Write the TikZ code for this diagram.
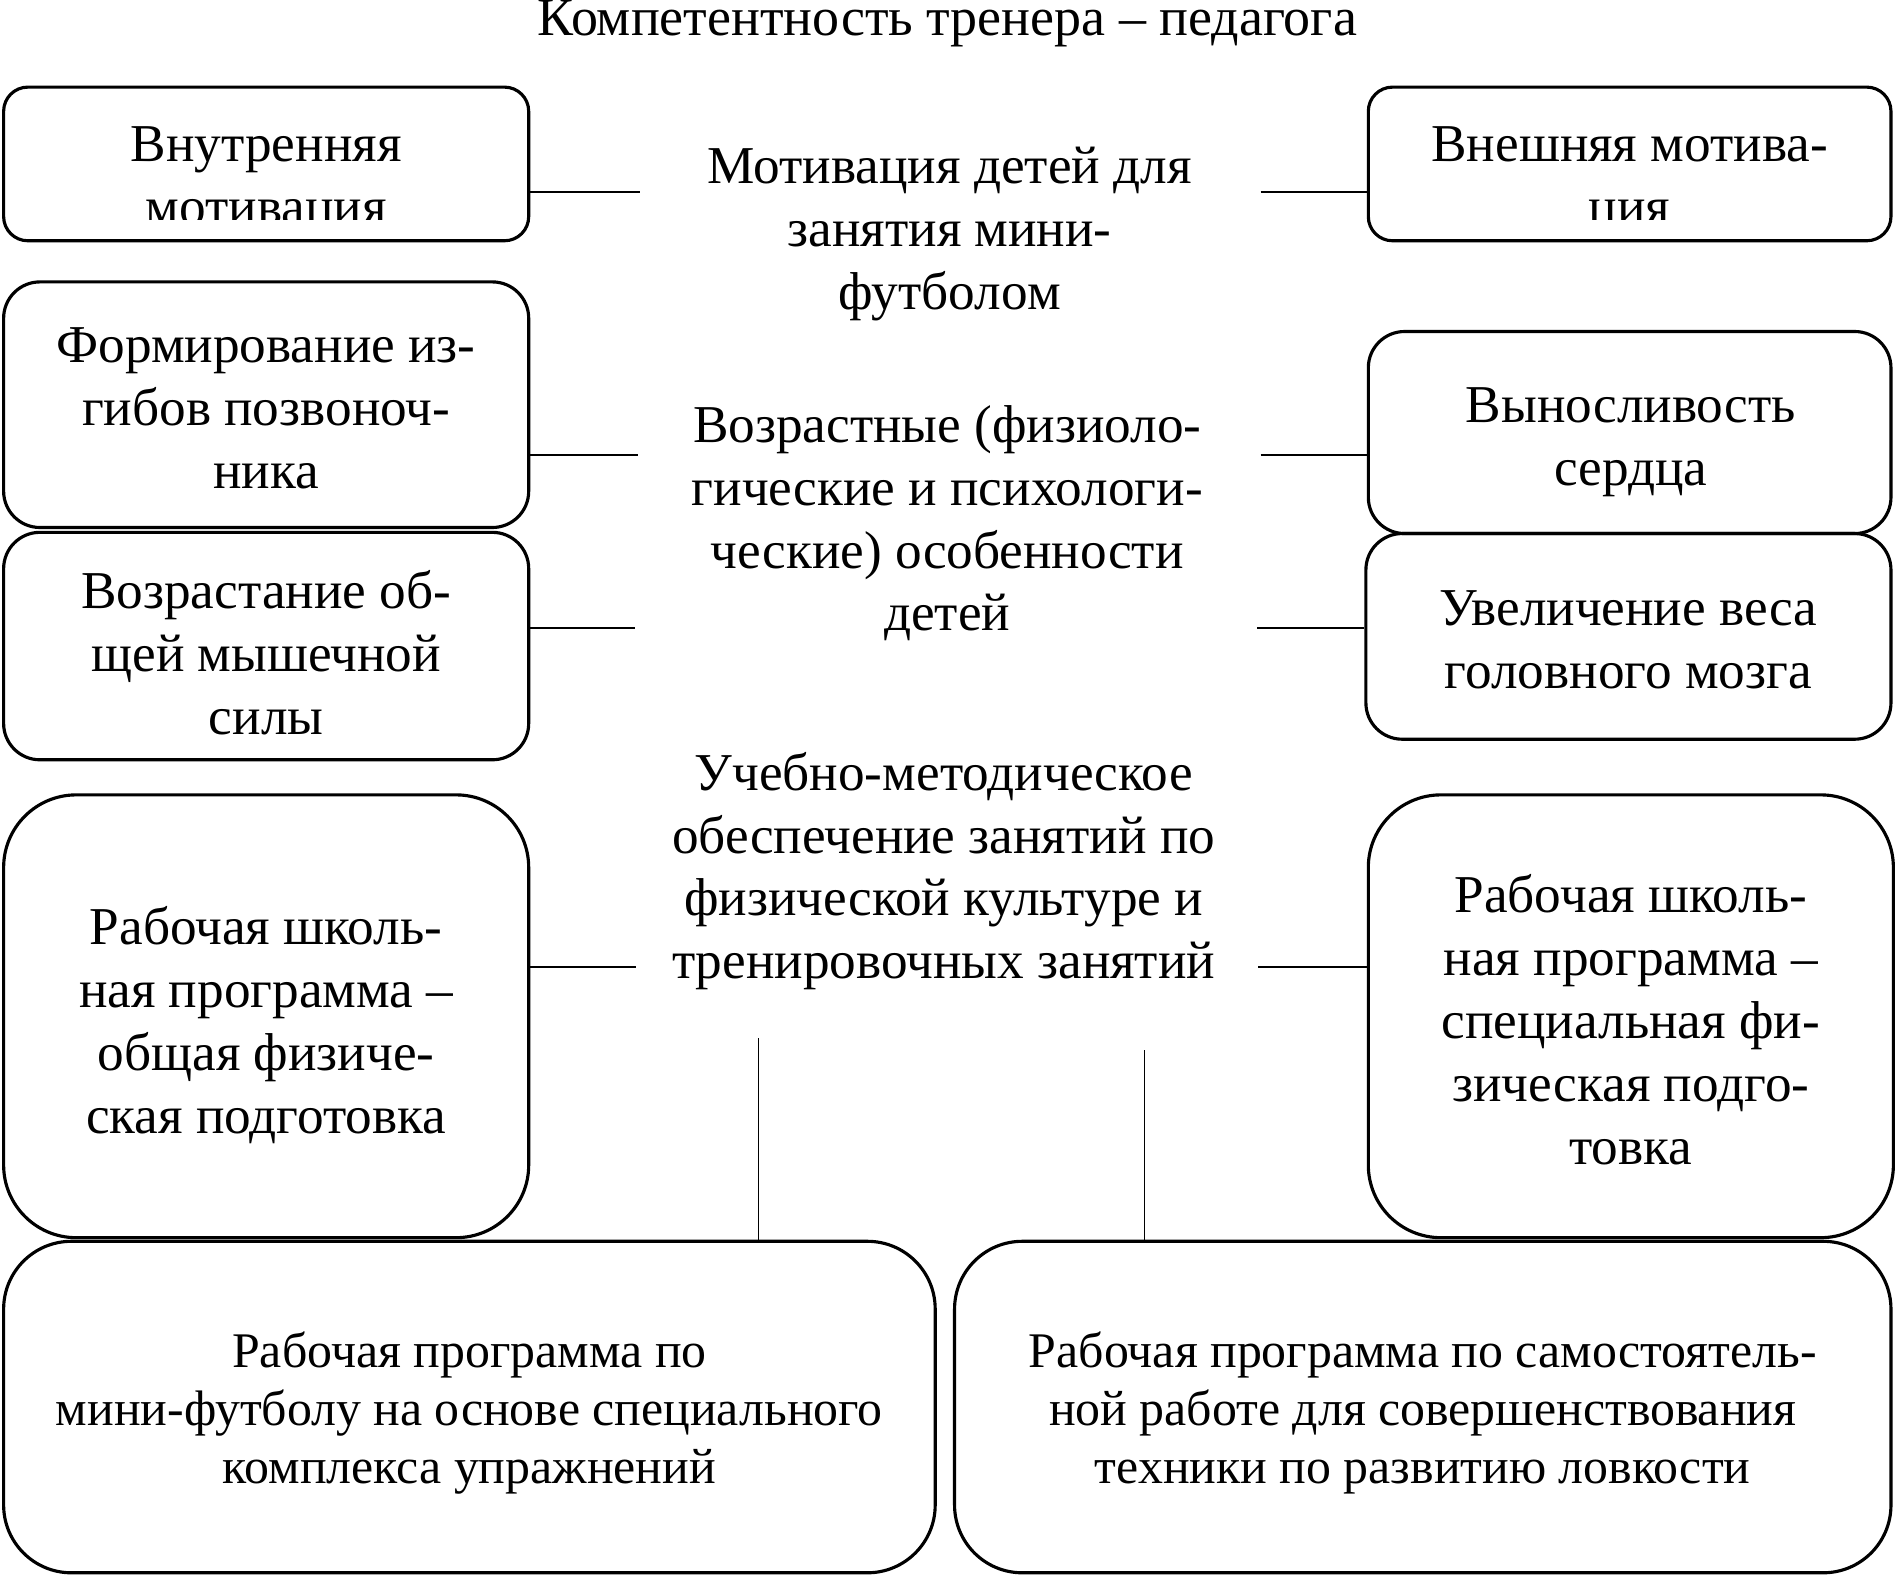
\documentclass[tikz,border=0pt]{standalone}
\usepackage{fontspec}
\setmainfont{Liberation Serif}
\begin{document}
\begin{tikzpicture}[x=0.5pt,y=-0.5pt,
  box/.style={draw,line width=1.3pt,rounded corners=#1,inner sep=0pt},
  box/.default=10pt,
  txt/.style={align=center,font=\fontsize{22}{26}\selectfont,inner sep=0pt},
  stxt/.style={align=center,font=\fontsize{20.6}{24}\selectfont,inner sep=0pt},
  ln/.style={line width=0.8pt},
  vln/.style={line width=0.5pt}]
\clip (0,0) rectangle (1568,1303);
% title
\node[txt,anchor=base,font=\fontsize{22.3}{26}\selectfont] (title) at (783,29) {Компетентность тренера – педагога};
% top row
\node[box=10pt,minimum width=217pt,minimum height=63.5pt] (tl) at (220,135.5) {};
\node[box=10pt,minimum width=216pt,minimum height=63.5pt] (tr) at (1347,135.5) {};
\begin{scope}
  \clip (3,72) rectangle (437,181.5);
  \node[txt] (tlt) at (220,149) {Внутренняя\\мотивация};
\end{scope}
\begin{scope}
  \clip (1131,72) rectangle (1563,181.5);
  \node[txt] (trt) at (1347,149) {Внешняя мотива-\\ция};
\end{scope}
\node[txt] (m1) at (785,193.5) {Мотивация детей для\\занятия мини-\\футболом};
% second block
\node[box=15pt,minimum width=217pt,minimum height=101.5pt] (l2) at (220,334.5) {};
\node[txt] (l2t) at (220,337.5) {Формирование из-\\гибов позвоноч-\\ника};
\node[box=15pt,minimum width=216pt,minimum height=83.5pt] (r2) at (1347,357.5) {};
\node[txt] (r2t) at (1348,365.5) {Выносливость\\сердца};
\node[box=15pt,minimum width=217pt,minimum height=94pt] (l3) at (220,534) {};
\node[txt] (l3t) at (220,539.5) {Возрастание об-\\щей мышечной\\силы};
\node[box=15pt,minimum width=217pt,minimum height=85pt] (r3) at (1346,526) {};
\node[txt] (r3t) at (1346,528.5) {Увеличение веса\\головного мозга};
\node[txt] (m2) at (783,432.5) {Возрастные (физиоло-\\гические и психологи-\\ческие) особенности\\детей};
% third block
\node[box=30pt,minimum width=217pt,minimum height=183pt] (l4) at (220,840) {};
\node[txt] (l4t) at (220,847) {Рабочая школь-\\ная программа –\\общая физиче-\\ская подготовка};
\node[box=30pt,minimum width=217pt,minimum height=183pt] (r4) at (1348,840) {};
\node[txt] (r4t) at (1348,843) {Рабочая школь-\\ная программа –\\специальная фи-\\зическая подго-\\товка};
\node[txt] (m3) at (780,720) {Учебно-методическое\\обеспечение занятий по\\физической культуре и\\тренировочных занятий};
% bottom
\node[box=28pt,minimum width=385pt,minimum height=137pt] (b1) at (388,1163) {};
\node[stxt] (b1t) at (388,1168) {Рабочая программа по\\мини-футболу на основе специального\\комплекса упражнений};
\node[box=28pt,minimum width=387pt,minimum height=137pt] (b2) at (1176,1163) {};
\node[stxt] (b2t) at (1176,1168) {Рабочая программа по самостоятель-\\ной работе для совершенствования\\техники по развитию ловкости};
% connector ends
\coordinate (c1l) at (529,159);
\coordinate (c1r) at (1042,159);
\coordinate (c2l) at (527,376);
\coordinate (c2r) at (1042,376);
\coordinate (c3l) at (525,519);
\coordinate (c3r) at (1039,519);
\coordinate (c4l) at (526,799);
\coordinate (c4r) at (1040,799);
\coordinate (v1) at (627,858);
\coordinate (v2) at (946,868);
\draw[ln] (tl.east |- c1l) -- (c1l);
\draw[ln] (c1r) -- (tr.west |- c1r);
\draw[ln] (l2.east |- c2l) -- (c2l);
\draw[ln] (c2r) -- (r2.west |- c2r);
\draw[ln] (l3.east |- c3l) -- (c3l);
\draw[ln] (c3r) -- (r3.west |- c3r);
\draw[ln] (l4.east |- c4l) -- (c4l);
\draw[ln] (c4r) -- (r4.west |- c4r);
\draw[vln] (v1) -- (v1 |- b1.north);
\draw[vln] (v2) -- (v2 |- b2.north);
\end{tikzpicture}
\end{document}
